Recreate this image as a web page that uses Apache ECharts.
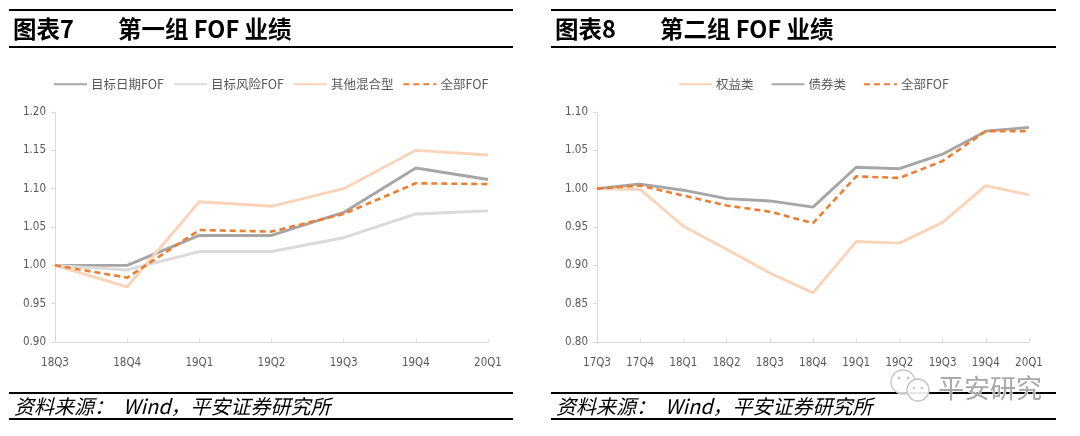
<!DOCTYPE html>
<html>
<head>
<meta charset="utf-8">
<script src="https://cdn.jsdelivr.net/npm/echarts@6/dist/echarts.min.js"></script>
<style>
html,body{margin:0;padding:0;background:#fff;}
#c{width:1080px;height:436px;}
</style>
</head>
<body>
<div id="c"></div>
<script>
// ---- data ----
const catsA = ['18Q3','18Q4','19Q1','19Q2','19Q3','19Q4','20Q1'];
const targetDate = [1.000, 1.000, 1.039, 1.039, 1.069, 1.127, 1.112];
const targetRisk = [1.000, 0.994, 1.018, 1.018, 1.036, 1.067, 1.071];
const otherMixed = [1.000, 0.972, 1.083, 1.077, 1.100, 1.150, 1.144];
const allFofA    = [1.000, 0.984, 1.046, 1.044, 1.067, 1.107, 1.106];

const catsB = ['17Q3','17Q4','18Q1','18Q2','18Q3','18Q4','19Q1','19Q2','19Q3','19Q4','20Q1'];
const equity = [1.000, 0.999, 0.951, 0.921, 0.890, 0.864, 0.931, 0.929, 0.956, 1.004, 0.992];
const bond   = [1.000, 1.006, 0.998, 0.987, 0.984, 0.976, 1.028, 1.026, 1.045, 1.075, 1.080];
const allFofB= [1.000, 1.004, 0.991, 0.978, 0.970, 0.955, 1.016, 1.014, 1.036, 1.075, 1.075];

const yTicksA = {min:0.90, max:1.20, interval:0.05};
const yTicksB = {min:0.80, max:1.10, interval:0.05};

// ---- styles ----
const cDark = '#A6A6A6', cLight = '#DADADA', cPeach = '#FAD3B8', cOrange = '#ED7D31';
const labFont = "'Liberation Sans Narrow','DejaVu Sans Condensed',sans-serif";
const cjk = "'Noto Sans CJK SC',sans-serif";

function xAxis(gi, data){
  return {type:'category', gridIndex:gi, data:data, boundaryGap:false,
    axisLine:{lineStyle:{color:'#D9D9D9', width:1}},
    axisTick:{show:true, inside:true, length:3, alignWithLabel:true, lineStyle:{color:'#D9D9D9'}},
    axisLabel:{color:'#595959', fontFamily:labFont, fontSize:11.5, margin:15}};
}
function yAxis(gi, t){
  return {type:'value', gridIndex:gi, min:t.min, max:t.max, interval:t.interval,
    axisLine:{show:true, lineStyle:{color:'#D9D9D9', width:1}},
    axisTick:{show:true, length:4, lineStyle:{color:'#D9D9D9'}},
    splitLine:{show:false},
    axisLabel:{color:'#595959', fontFamily:labFont, fontSize:11.5, margin:9,
      formatter:v=>v.toFixed(2)}};
}
function line(name, data, color, gi, dashed){
  return {type:'line', name:name, data:data, xAxisIndex:gi, yAxisIndex:gi,
    symbol:'none', smooth:false,
    lineStyle:{color:color, width:dashed?2.6:2.9, type:dashed?[6,4]:'solid', cap:'butt'},
    itemStyle:{color:color}, z: dashed?5:3};
}

function titleGroup(x0, x1, num, text){
  return [
    {type:'line', shape:{x1:x0,y1:10,x2:x1,y2:10}, style:{stroke:'#000', lineWidth:1.8}},
    {type:'line', shape:{x1:x0,y1:47,x2:x1,y2:47}, style:{stroke:'#000', lineWidth:1.8}},
    {type:'text', x:x0+4, y:29, style:{text:num, fontFamily:cjk, fontWeight:'bold', fontSize:23.5, fill:'#000', verticalAlign:'middle'}},
    {type:'text', x:x0+109, y:29, style:{text:text, fontFamily:cjk, fontWeight:'bold', fontSize:23.5, fill:'#000', verticalAlign:'middle'}},
    {type:'line', shape:{x1:x0,y1:393,x2:x1,y2:393}, style:{stroke:'#000', lineWidth:1.8}},
    {type:'line', shape:{x1:x0,y1:419,x2:x1,y2:419}, style:{stroke:'#000', lineWidth:1.8}},
    {type:'text', x:x0+5, y:406, style:{text:'资料来源：  Wind，平安证券研究所', fontFamily:cjk, fontStyle:'italic', fontSize:20, fill:'#000', verticalAlign:'middle'}}
  ];
}

const chart = echarts.init(document.getElementById('c'), null, {renderer:'canvas'});
chart.setOption({
  animation:false,
  backgroundColor:'#fff',
  grid:[
    {left:55, top:112, width:433, height:230},
    {left:597, top:112, width:432, height:230}
  ],
  legend:[
    {left:48, top:73, itemWidth:33, itemHeight:10, itemGap:9,
     itemStyle:{opacity:0},
     data:['目标日期FOF','目标风险FOF','其他混合型','全部FOF'],
     textStyle:{color:'#595959', fontFamily:cjk, fontSize:12.5, padding:[0,0,0,-1]}},
    {left:673, top:73, itemWidth:33, itemHeight:10, itemGap:17,
     itemStyle:{opacity:0},
     data:['权益类','债券类','全部FOF'],
     textStyle:{color:'#595959', fontFamily:cjk, fontSize:12.5, padding:[0,0,0,-1]}}
  ],
  xAxis:[xAxis(0,catsA), xAxis(1,catsB)],
  yAxis:[yAxis(0,yTicksA), yAxis(1,yTicksB)],
  series:[
    line('目标日期FOF', targetDate, cDark, 0, false),
    line('目标风险FOF', targetRisk, cLight, 0, false),
    line('其他混合型', otherMixed, cPeach, 0, false),
    line('全部FOF', allFofA, cOrange, 0, true),
    line('权益类', equity, cPeach, 1, false),
    line('债券类', bond, cDark, 1, false),
    line('全部FOF', allFofB, cOrange, 1, true)
  ],
  graphic:[].concat(
    titleGroup(9, 513, '图表7', '第一组 FOF 业绩'),
    titleGroup(551, 1056, '图表8', '第二组 FOF 业绩'),
    [
      {type:'circle', shape:{cx:903,cy:382,r:12}, style:{fill:'rgba(255,255,255,0.8)', stroke:'#C4C4C4', lineWidth:1.3}},
      {type:'circle', shape:{cx:918,cy:390,r:11}, style:{fill:'rgba(255,255,255,0.9)', stroke:'#C4C4C4', lineWidth:1.3}},
      {type:'circle', shape:{cx:899,cy:378,r:1.5}, style:{fill:'#C4C4C4'}},
      {type:'circle', shape:{cx:908,cy:378,r:1.5}, style:{fill:'#C4C4C4'}},
      {type:'circle', shape:{cx:914,cy:388,r:1.3}, style:{fill:'#C4C4C4'}},
      {type:'circle', shape:{cx:922,cy:388,r:1.3}, style:{fill:'#C4C4C4'}},
      {type:'text', x:938, y:388, style:{text:'平安研究', fontFamily:cjk, fontSize:26, fill:'#A8A8A8', stroke:'#fff', lineWidth:1, verticalAlign:'middle'}}
    ]
  )
});
</script>
</body>
</html>
